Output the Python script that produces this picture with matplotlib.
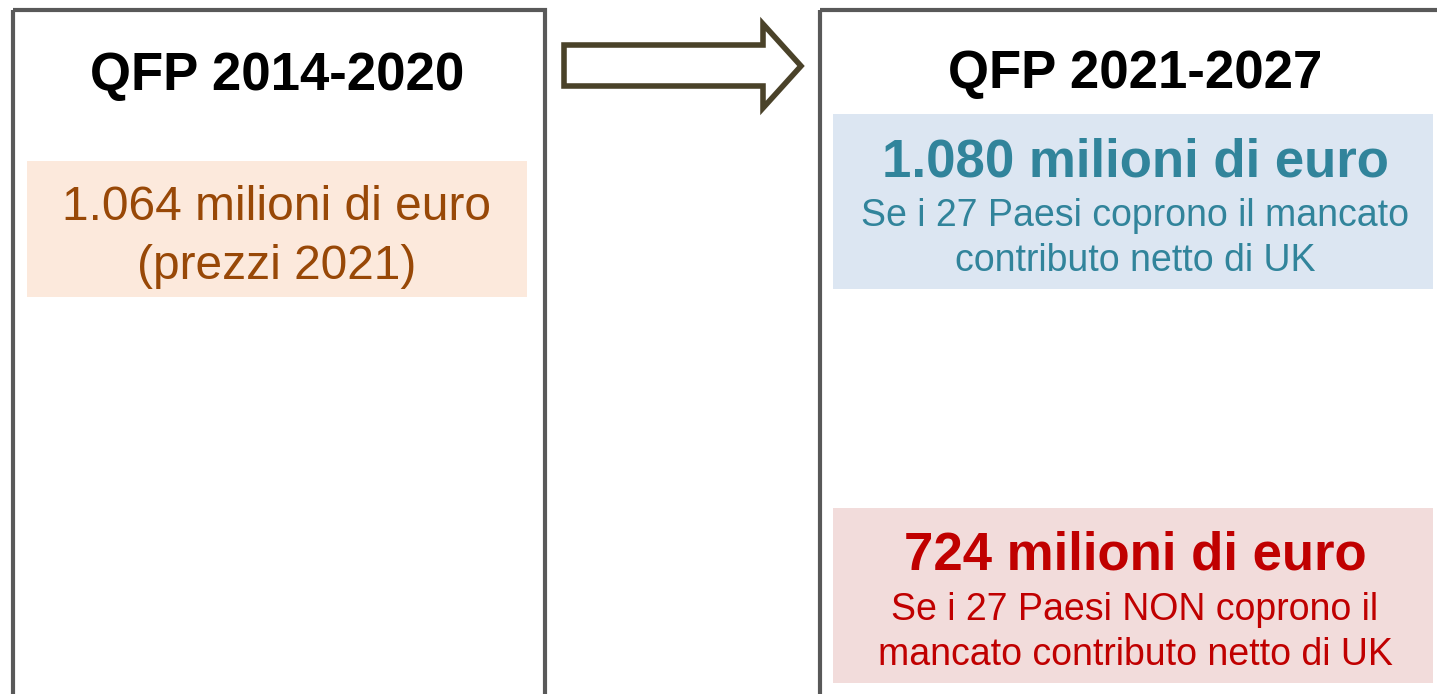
import matplotlib.pyplot as plt
from matplotlib.patches import Rectangle, Polygon

plt.rcParams['font.family'] = ['Liberation Sans', 'DejaVu Sans']

# testi del confronto QFP
titles = ["QFP 2014-2020", "QFP 2021-2027"]
old_amount = ["1.064 milioni di euro", "(prezzi 2021)"]
scenario_amounts = ["1.080 milioni di euro", "724 milioni di euro"]
scenario_notes = [
    ["Se i 27 Paesi coprono il mancato", "contributo netto di UK"],
    ["Se i 27 Paesi NON coprono il", "mancato contributo netto di UK"],
]

W, H = 1437, 694
fig = plt.figure(figsize=(W / 100, H / 100), dpi=100)
ax = fig.add_axes([0, 0, 1, 1])
ax.set_xlim(0, W)
ax.set_ylim(H, 0)
ax.axis("off")

border = "#595959"

# riquadri
ax.add_patch(Rectangle((12.5, 9.5), 532, 700, fill=False, ec=border, lw=3))
ax.add_patch(Rectangle((820, 9.5), 640, 700, fill=False, ec=border, lw=3))

# freccia
arrow = [(564, 45), (763, 45), (763, 24), (801, 66), (763, 108), (763, 86), (564, 86)]
ax.add_patch(Polygon(arrow, closed=True, fc="white", ec="#4A4229", lw=4, joinstyle="miter"))

# titoli
ax.text(277, 76, titles[0], ha="center", va="center", fontsize=38, fontweight="bold", color="black")
ax.text(1135, 74, titles[1], ha="center", va="center", fontsize=38, fontweight="bold", color="black")

# box sinistro
ax.add_patch(Rectangle((27, 161), 500, 136, fc="#FCE9DC", ec="none"))
ax.text(277, 207, old_amount[0], ha="center", va="center", fontsize=34.5, color="#984807")
ax.text(277, 266, old_amount[1], ha="center", va="center", fontsize=34.5, color="#984807")

# scenari
bands = [(114, "#DCE6F2", "#31849B"), (508, "#F2DCDB", "#C00000")]
for i, (y0, bg, fg) in enumerate(bands):
    ax.add_patch(Rectangle((833, y0), 600, 175, fc=bg, ec="none"))
    ax.text(1135, y0 + 48, scenario_amounts[i], ha="center", va="center",
            fontsize=38, fontweight="bold", color=fg)
    ax.text(1135, y0 + 102, scenario_notes[i][0], ha="center", va="center", fontsize=27, color=fg)
    ax.text(1135, y0 + 147, scenario_notes[i][1], ha="center", va="center", fontsize=27, color=fg)

fig.savefig("out.png", dpi=100)
